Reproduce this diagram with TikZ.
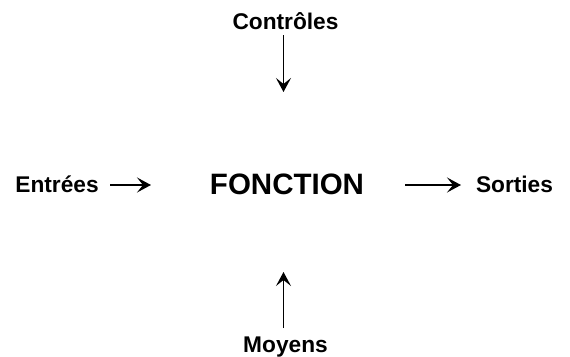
\documentclass[tikz,border=0pt]{standalone}
\usepackage{fontspec}
\setmainfont{Liberation Sans}
\usetikzlibrary{arrows.meta}
\begin{document}
\begin{tikzpicture}[x=1pt,y=-1pt,
  lbl/.style={anchor=base, inner sep=0pt, font=\fontsize{22.7}{26}\selectfont\bfseries},
  fn/.style={anchor=base, inner sep=0pt, font=\fontsize{29.5}{34}\selectfont\bfseries},
  flow/.style={line width=1.4pt, -{Stealth[length=14pt,width=15pt,inset=6pt]}}]
  \useasboundingbox (0,0) rectangle (570,356);
  % labels
  \node[lbl] (ctl) at (285.5,29.3) {Contrôles};
  \node[lbl] (in)  at (57,192.3) {Entrées};
  \node[fn]  (fct) at (287,194) {FONCTION};
  \node[lbl] (out) at (514.5,192.4) {Sorties};
  \node[lbl] (mov) at (285.5,352.5) {Moyens};
  % arrow end points
  \coordinate (ctlA) at (283.5,35);
  \coordinate (ctlB) at (283.5,92);
  \coordinate (inA)  at (110,185);
  \coordinate (inB)  at (151,185);
  \coordinate (outA) at (405,185);
  \coordinate (outB) at (461,185);
  \coordinate (movA) at (283.5,328);
  \coordinate (movB) at (283.5,272);
  % arrows
  \draw[flow] (ctlA) -- (ctlB);
  \draw[flow] (inA) -- (inB);
  \draw[flow] (outA) -- (outB);
  \draw[flow] (movA) -- (movB);
\end{tikzpicture}
\end{document}
